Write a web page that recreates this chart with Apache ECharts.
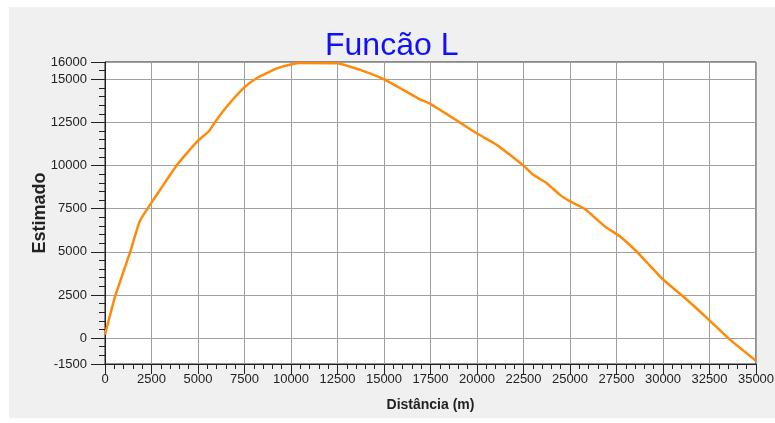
<!DOCTYPE html>
<html>
<head>
<meta charset="utf-8">
<script src="https://cdn.jsdelivr.net/npm/echarts@6/dist/echarts.min.js"></script>
<style>
  html, body { margin: 0; padding: 0; background: #ffffff; }
  #chart { width: 775px; height: 423px; }
</style>
</head>
<body>
<div id="chart"></div>
<script>
// Data
const distances = [0, 540, 1340, 1880, 2500, 3140, 3850, 4400, 4980, 5600, 5900, 6540, 7490, 8150, 8870, 9230, 10040, 10500, 12500, 13710, 15000, 16040, 16920, 17470, 19090, 19980, 21060, 21770, 22510, 23030, 23750, 24460, 24960, 25810, 26880, 27740, 28580, 29300, 30020, 31090, 32470, 33600, 35000];
const estimates = [200, 2400, 4950, 6800, 7850, 8880, 10000, 10720, 11420, 12000, 12500, 13410, 14530, 15060, 15440, 15630, 15870, 15940, 15930, 15540, 15000, 14380, 13840, 13590, 12490, 11870, 11200, 10620, 9980, 9460, 8980, 8300, 7950, 7470, 6470, 5850, 5020, 4200, 3380, 2410, 1060, -90, -1320];
const yTickValues = [-1500, 0, 2500, 5000, 7500, 10000, 12500, 15000, 16000];
const titleText = 'Funcão L';
const xName = 'Distância (m)';
const yName = 'Estimado';

const seriesData = distances.map((d, i) => [d, estimates[i]]);

const chart = echarts.init(document.getElementById('chart'), null, { renderer: 'canvas' });
const fontFamily = '"Liberation Sans", Arial, sans-serif';
const textColor = '#222222';
const plain = v => String(v);

chart.setOption({
  backgroundColor: '#ffffff',
  animation: false,
  graphic: [{
    type: 'rect', z: -10, silent: true,
    shape: { x: 9, y: 7, width: 766, height: 411 },
    style: { fill: '#f0f0f0' }
  }],
  title: {
    text: titleText,
    left: 320,
    top: 25,
    textStyle: { color: '#1010ff', fontSize: 32, fontWeight: 'normal', fontFamily: fontFamily }
  },
  grid: {
    left: 105, right: 19, top: 62, bottom: 59,
    show: true, backgroundColor: '#ffffff', borderColor: '#222222', borderWidth: 1,
    containLabel: false, outerBoundsMode: 'none'
  },
  xAxis: [{
    type: 'value', position: 'bottom', min: 0, max: 35000, interval: 2500,
    name: xName, nameLocation: 'middle', nameGap: 34,
    nameTextStyle: { fontWeight: 'bold', fontSize: 14, color: textColor, fontFamily: fontFamily },
    axisLine: { show: true, onZero: false, lineStyle: { color: '#222222', width: 1 } },
    axisTick: { show: true, length: 10, lineStyle: { color: '#222222' } },
    axisLabel: { fontSize: 13, color: textColor, margin: 9, fontFamily: fontFamily, formatter: plain },
    splitLine: { show: true, lineStyle: { color: '#a0a0a0', width: 1 } }
  }, {
    type: 'value', position: 'bottom', min: 0, max: 35000, interval: 500, offset: 0,
    axisLine: { show: false, onZero: false },
    axisTick: { show: true, length: 5, lineStyle: { color: '#222222' } },
    axisLabel: { show: false },
    splitLine: { show: false }
  }],
  yAxis: [{
    type: 'value', position: 'left', min: -1500, max: 16000,
    name: yName, nameLocation: 'middle', nameGap: 56, nameRotate: 90, nameMoveOverlap: false,
    nameTextStyle: { fontWeight: 'bold', fontSize: 18, color: textColor, fontFamily: fontFamily },
    axisLine: { show: true, onZero: false, lineStyle: { color: '#222222', width: 1 } },
    axisTick: { show: true, length: 14, customValues: yTickValues, lineStyle: { color: '#222222' } },
    axisLabel: { fontSize: 13, color: textColor, margin: 18, customValues: yTickValues, fontFamily: fontFamily, formatter: plain },
    splitLine: { show: true, lineStyle: { color: '#a0a0a0', width: 1 } }
  }, {
    type: 'value', position: 'left', min: -1500, max: 16000, interval: 500, offset: 0,
    axisLine: { show: false, onZero: false },
    axisTick: { show: true, length: 6, lineStyle: { color: '#222222' } },
    axisLabel: { show: false },
    splitLine: { show: false }
  }],
  series: [{
    type: 'line',
    xAxisIndex: 0, yAxisIndex: 0,
    data: seriesData,
    showSymbol: false,
    smooth: 0.15,
    lineStyle: { color: '#ff8a0a', width: 2.5 },
    z: 5
  }]
});
</script>
</body>
</html>
